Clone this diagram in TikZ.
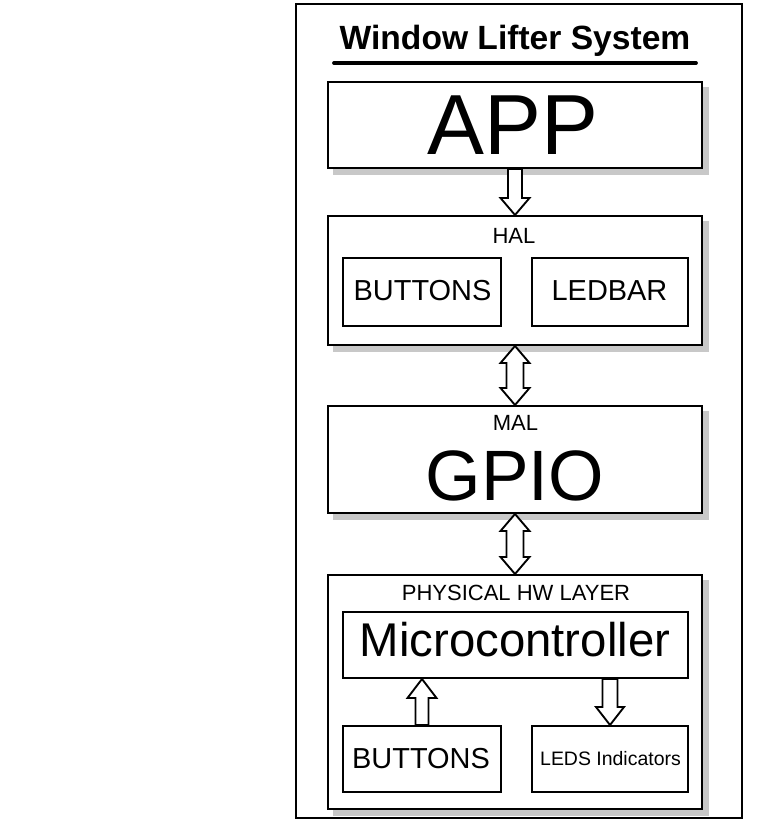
\documentclass[tikz,border=0pt]{standalone}
\usepackage{fontspec}
\setmainfont{Liberation Sans}
\usetikzlibrary{calc,backgrounds}
\definecolor{shadowgray}{RGB}{200,200,200}
\begin{document}
\begin{tikzpicture}[x=0.75pt,y=-0.75pt,
  box/.style={draw=black, line width=1.5pt, fill=white, inner sep=0pt},
  frame/.style={draw=black, line width=1.5pt, inner sep=0pt},
  blockarrow/.style={draw=black, line width=1.4pt, fill=white, line join=miter},
  txt/.style={inner sep=0pt, anchor=base},
  shadow/.style={fill=shadowgray, draw=none}]
\useasboundingbox (0,0) rectangle (768,831);

% outer frame
\node[frame, minimum width=334.5pt, minimum height=610.5pt] (outer) at (519,411) {};

% title
\node[txt, font=\bfseries\fontsize{25.2}{29}\selectfont] (title) at (515,50) {Window Lifter System};
\draw[line width=2.8pt, line cap=round] ($(title.base)+(-181,13)$) coordinate (ulA) -- ($(title.base)+(181,13)$) coordinate (ulB);

% layer boxes
\node[box, minimum width=280.5pt, minimum height=64.5pt] (app) at (515,125) {};
\node[box, minimum width=280.5pt, minimum height=96.75pt] (hal) at (515,280.5) {};
\node[box, minimum width=280.5pt, minimum height=80.25pt] (mal) at (515,459.5) {};
\node[box, minimum width=280.5pt, minimum height=175.5pt] (phy) at (515,692) {};

% inner boxes
\node[box, minimum width=118.5pt, minimum height=51pt] (hbtn) at (422,292) {};
\node[box, minimum width=117pt, minimum height=51pt] (hled) at (610,292) {};
\node[box, minimum width=258.75pt, minimum height=49.5pt] (mcu) at (515.5,645) {};
\node[box, minimum width=118.5pt, minimum height=49.5pt] (pbtn) at (422,759) {};
\node[box, minimum width=117pt, minimum height=49.5pt] (pled) at (610,759) {};

% shadows
\begin{pgfonlayer}{background}
  \foreach \n in {app,hal,mal,phy}{
    \fill[shadow] ($(\n.south west)+(6,6)$) rectangle ($(\n.north east)+(6,6)$);
  }
\end{pgfonlayer}

% texts
\node[txt, font=\fontsize{64}{70}\selectfont] (tapp) at (513,155) {APP};
\node[txt, font=\fontsize{16.5}{19}\selectfont] (thal) at (514,243) {HAL};
\node[txt, font=\fontsize{21.7}{25}\selectfont] (thbtn) at (422.5,300) {BUTTONS};
\node[txt, font=\fontsize{21.7}{25}\selectfont] (thled) at (609.5,300) {LEDBAR};
\node[txt, font=\fontsize{16.5}{19}\selectfont] (tmal) at (515.5,430.5) {MAL};
\node[txt, font=\fontsize{53.5}{60}\selectfont] (tgpio) at (515,500) {GPIO};
\node[txt, font=\fontsize{16.5}{19}\selectfont] (tphy) at (516,600) {PHYSICAL HW LAYER};
\node[txt, font=\fontsize{35.5}{40}\selectfont] (tmcu) at (515,656.5) {Microcontroller};
\node[txt, font=\fontsize{21.7}{25}\selectfont] (tpbtn) at (421,768) {BUTTONS};
\node[txt, font=\fontsize{14.6}{17}\selectfont] (tpled) at (610.5,765) {LEDS Indicators};

% APP -> HAL
\draw[blockarrow] ($(app.south)+(-7,0)$) -- ($(hal.north)+(-7,-17)$) -- ($(hal.north)+(-14.5,-17)$)
  -- (hal.north) -- ($(hal.north)+(14.5,-17)$) -- ($(hal.north)+(7,-17)$) -- ($(app.south)+(7,0)$) -- cycle;

% HAL <-> MAL
\draw[blockarrow] (hal.south) -- ($(hal.south)+(14.5,17)$) -- ($(hal.south)+(8.5,17)$)
  -- ($(mal.north)+(8.5,-17)$) -- ($(mal.north)+(14.5,-17)$) -- (mal.north)
  -- ($(mal.north)+(-14.5,-17)$) -- ($(mal.north)+(-8.5,-17)$) -- ($(hal.south)+(-8.5,17)$)
  -- ($(hal.south)+(-14.5,17)$) -- cycle;

% MAL <-> PHY
\draw[blockarrow] (mal.south) -- ($(mal.south)+(14.5,17)$) -- ($(mal.south)+(8.5,17)$)
  -- ($(phy.north)+(8.5,-17)$) -- ($(phy.north)+(14.5,-17)$) -- (phy.north)
  -- ($(phy.north)+(-14.5,-17)$) -- ($(phy.north)+(-8.5,-17)$) -- ($(mal.south)+(-8.5,17)$)
  -- ($(mal.south)+(-14.5,17)$) -- cycle;

% BUTTONS -> MCU
\coordinate (upTip) at (pbtn.north |- mcu.south);
\draw[blockarrow] ($(pbtn.north)+(-6.5,0)$) -- ($(upTip)+(-6.5,19)$) -- ($(upTip)+(-14.5,19)$)
  -- (upTip) -- ($(upTip)+(14.5,19)$) -- ($(upTip)+(6.5,19)$) -- ($(pbtn.north)+(6.5,0)$) -- cycle;

% MCU -> LEDS
\coordinate (dnTop) at (pled.north |- mcu.south);
\draw[blockarrow] ($(dnTop)+(-7.5,0)$) -- ($(pled.north)+(-7.5,-18)$) -- ($(pled.north)+(-14,-18)$)
  -- (pled.north) -- ($(pled.north)+(14,-18)$) -- ($(pled.north)+(7.5,-18)$) -- ($(dnTop)+(7.5,0)$) -- cycle;
\end{tikzpicture}
\end{document}
